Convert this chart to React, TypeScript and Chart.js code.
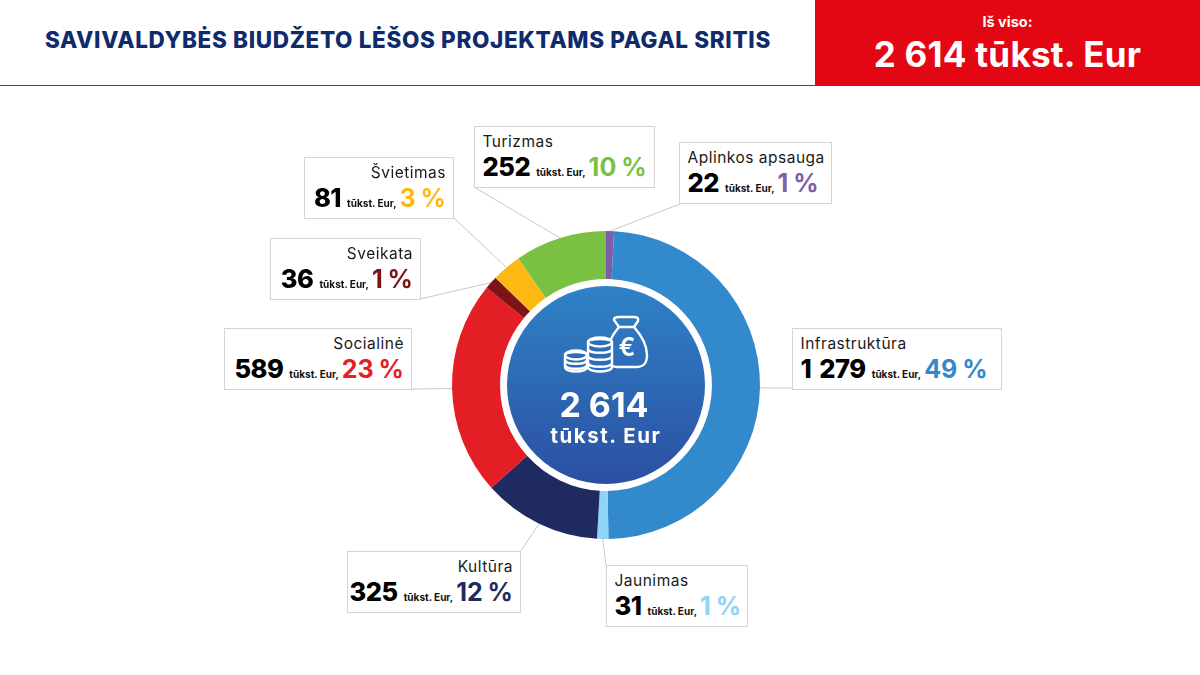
import { useEffect, useRef } from "react";
import { Chart, ArcElement, DoughnutController, Plugin } from "chart.js";

Chart.register(ArcElement, DoughnutController);

const categories = ["Aplinkos apsauga", "Infrastruktūra", "Jaunimas", "Kultūra", "Socialinė", "Sveikata", "Švietimas", "Turizmas"];
const values = [22, 1279, 31, 325, 589, 36, 81, 252];
const valueLabels = ["22", "1 279", "31", "325", "589", "36", "81", "252"];
const shares = ["1 %", "49 %", "1 %", "12 %", "23 %", "1 %", "3 %", "10 %"];
const colors = ["#7d5fa8", "#3289cb", "#8fd3f7", "#1f2a60", "#e31e24", "#7f1416", "#fdb913", "#7ac143"];

const title = "SAVIVALDYBĖS BIUDŽETO LĖŠOS PROJEKTAMS PAGAL SRITIS";
const totalCaption = "Iš viso:";
const totalNumber = "2 614";
const unit = "tūkst. Eur";

// label boxes, same order as categories
const boxes = [
  { left: 679, top: 142, width: 153, align: "left", anchor: [680, 204] },
  { left: 792, top: 328, width: 210, align: "left", anchor: [792, 388] },
  { left: 606, top: 565, width: 142, align: "left", anchor: [606, 565] },
  { left: 347, top: 551, width: 174, align: "right", anchor: [520, 552] },
  { left: 224, top: 328, width: 188, align: "right", anchor: [412, 389] },
  { left: 270, top: 238, width: 151, align: "right", anchor: [420, 299] },
  { left: 304, top: 157, width: 150, align: "right", anchor: [454, 218] },
  { left: 474, top: 126, width: 181, align: "left", anchor: [474, 187] },
];

const FONT = "Inter, 'Noto Sans', sans-serif";

// lines from the middle of each slice to its label box
const leaderLines: Plugin<"doughnut"> = {
  id: "leaderLines",
  afterDatasetsDraw(chart) {
    const { ctx } = chart;
    ctx.save();
    ctx.strokeStyle = "#c9c9c9";
    ctx.lineWidth = 1;
    chart.getDatasetMeta(0).data.forEach((arc, i) => {
      const { x, y } = arc.tooltipPosition(false);
      const p = arc.getProps(["startAngle", "endAngle", "outerRadius"], true) as any;
      const mid = (p.startAngle + p.endAngle) / 2;
      const cx = x - Math.cos(mid) * ((arc as any).innerRadius + p.outerRadius) / 2;
      const cy = y - Math.sin(mid) * ((arc as any).innerRadius + p.outerRadius) / 2;
      ctx.beginPath();
      ctx.moveTo(cx + Math.cos(mid) * p.outerRadius, cy + Math.sin(mid) * p.outerRadius);
      ctx.lineTo(boxes[i].anchor[0], boxes[i].anchor[1]);
      ctx.stroke();
    });
    ctx.restore();
  },
};

const MoneyIcon = () => (
  <svg width="95" height="62" viewBox="0 0 95 62" fill="none" stroke="#fff" strokeWidth="2.4" strokeLinejoin="round" strokeLinecap="round"
    style={{ position: "absolute", left: 560, top: 313 }}>
    <path d="M54 7 C54 4 57 4 59 4 H74 C77 4 79 5 78 8 L74 14 H59 Z" />
    <path d="M59 14 C52 22 47 32 47 42 C47 50 50 54 58 54 H76 C84 54 87 50 87 42 C87 32 81 22 74 14" />
    <text x="67" y="43" fill="#fff" stroke="none" fontSize="25" fontWeight="600" textAnchor="middle" fontFamily={FONT}>€</text>
    <path d="M28 29 C28 25 52 25 52 29 V54 C52 60 28 60 28 54 Z" fill="#2d6db8" />
    <path d="M28 36 C28 41 52 41 52 36 M28 43 C28 48 52 48 52 43 M28 50 C28 55 52 55 52 50" />
    <ellipse cx="40" cy="29" rx="12" ry="4.5" />
    <path d="M5 42 C5 38 27 38 27 42 V54 C27 60 5 60 5 54 Z" fill="#2d6db8" />
    <path d="M5 47 C5 52 27 52 27 47 M5 52 C5 57 27 57 27 52" />
    <ellipse cx="16" cy="42" rx="11" ry="4.5" />
  </svg>
);

export default function App() {
  const canvasRef = useRef<HTMLCanvasElement>(null);

  useEffect(() => {
    if (!canvasRef.current) return;
    const chart = new Chart(canvasRef.current, {
      type: "doughnut",
      data: {
        labels: categories,
        datasets: [{ data: values, backgroundColor: colors, borderWidth: 0 }],
      },
      options: {
        animation: false,
        responsive: false,
        cutout: "68.8%",
        layout: { padding: { left: 452, right: 440, top: 231, bottom: 136 } },
        plugins: { legend: { display: false }, tooltip: { enabled: false } },
      },
      plugins: [leaderLines],
    });
    return () => chart.destroy();
  }, []);

  return (
    <div style={{ position: "fixed", left: 0, top: 0, width: 1200, height: 675, background: "#fff", overflow: "hidden", fontFamily: FONT }}>
      <div style={{ position: "absolute", left: 0, top: 85, width: 1200, height: 1, background: "#e30613" }} />
      <div style={{ position: "absolute", left: 45, top: 26, fontSize: 22.5, letterSpacing: 0.65, lineHeight: "28px", fontWeight: 800, color: "#0f2b6b", whiteSpace: "nowrap" }}>{title}</div>
      <div style={{ position: "absolute", left: 815, top: 0, width: 385, height: 85, background: "#e30613", color: "#fff", textAlign: "center" }}>
        <div style={{ position: "absolute", left: 0, right: 0, top: 12, fontSize: 14.5, lineHeight: "20px", fontWeight: 700 }}>{totalCaption}</div>
        <div style={{ position: "absolute", left: 0, right: 0, top: 32, fontSize: 35, letterSpacing: 0.25, lineHeight: "44px", fontWeight: 700, whiteSpace: "nowrap" }}>{totalNumber} {unit}</div>
      </div>

      <canvas ref={canvasRef} width={1200} height={675} style={{ position: "absolute", left: 0, top: 0, display: "block" }} />

      <div style={{ position: "absolute", left: 507, top: 286, width: 198, height: 198, borderRadius: "50%", background: "linear-gradient(#2f82c6, #2b4fa2)" }} />
      <MoneyIcon />
      <div style={{ position: "absolute", left: 504, width: 200, top: 385, textAlign: "center", color: "#fff", fontSize: 34, lineHeight: "40px", fontWeight: 700 }}>{totalNumber}</div>
      <div style={{ position: "absolute", left: 506, width: 200, top: 423, textAlign: "center", color: "#fff", fontSize: 20.5, letterSpacing: 1.5, lineHeight: "26px", fontWeight: 700 }}>{unit}</div>

      {categories.map((name, i) => {
        const right = boxes[i].align === "right";
        return (
          <div key={name} style={{ position: "absolute", boxSizing: "border-box", left: boxes[i].left, top: boxes[i].top, width: boxes[i].width, height: 62, background: "#fff", border: "1px solid #d4d4d4", padding: right ? "0 7px 0 0" : "0 0 0 7.5px", textAlign: right ? "right" : "left" }}>
            <div style={{ fontSize: 15.5, letterSpacing: 0.5, lineHeight: "20px", marginTop: 5, color: "#1a1a1a" }}>{name}</div>
            <div style={{ whiteSpace: "nowrap", lineHeight: "30px" }}>
              <span style={{ fontSize: 25.5, letterSpacing: -0.5, wordSpacing: 3, fontWeight: 800, color: "#000" }}>{valueLabels[i]}</span>
              <span style={{ fontSize: 10, fontWeight: 700, color: "#111", margin: "0 3px 0 6px" }}>{unit},</span>
              <span style={{ fontSize: 25, fontWeight: 700, wordSpacing: -1, color: colors[i] }}>{shares[i]}</span>
            </div>
          </div>
        );
      })}
    </div>
  );
}
